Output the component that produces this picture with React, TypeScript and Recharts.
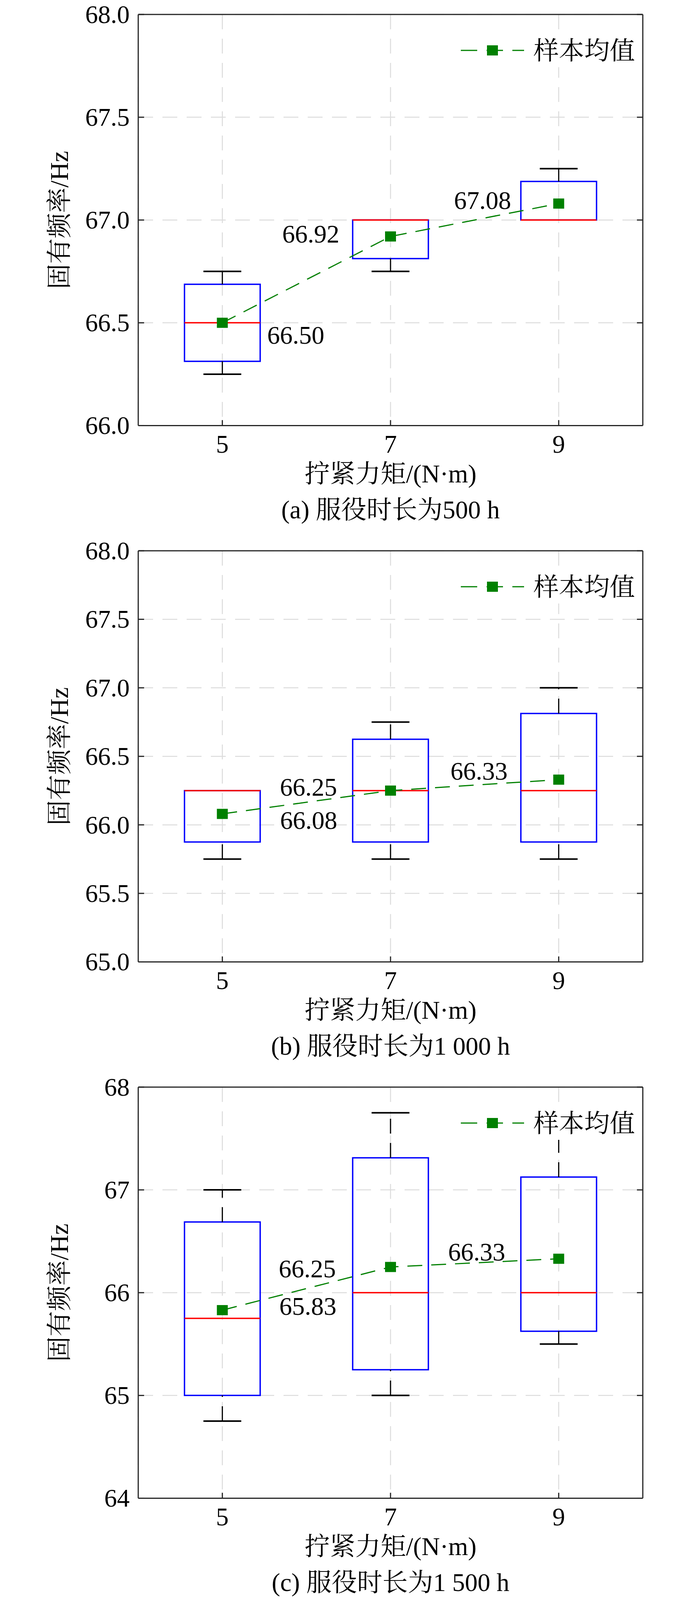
import React from 'react';
import { ComposedChart, Line, XAxis, YAxis, CartesianGrid, ReferenceArea, ReferenceLine, LabelList } from 'recharts';

// tightening torque, N·m
const torques = [5, 7, 9];

// (a) 500 h
const lowA = [66.25, 66.75, 67.0];
const q1A = [66.3125, 66.8125, 67.0];
const medA = [66.5, 67.0, 67.0];
const q3A = [66.6875, 67.0, 67.1875];
const highA = [66.75, 67.0, 67.25];
const meanA = [66.5, 66.92, 67.08];
const yTicksA = [66.0, 66.5, 67.0, 67.5, 68.0];

// (b) 1 000 h
const lowB = [65.75, 65.75, 65.75];
const q1B = [65.875, 65.875, 65.875];
const medB = [66.25, 66.25, 66.25];
const q3B = [66.25, 66.625, 66.8125];
const highB = [66.25, 66.75, 67.0];
const meanB = [66.08, 66.25, 66.33];
const yTicksB = [65.0, 65.5, 66.0, 66.5, 67.0, 67.5, 68.0];

// (c) 1 500 h
const lowC = [64.75, 65.0, 65.5];
const q1C = [65.0, 65.25, 65.625];
const medC = [65.75, 66.0, 66.0];
const q3C = [66.6875, 67.3125, 67.125];
const highC = [67.0, 67.75, 67.75];
const meanC = [65.83, 66.25, 66.33];
const yTicksC = [64, 65, 66, 67, 68];

// the viewport is only 4096px tall, so vertical distances are squeezed to fit
const SY = 4096 / 4390;

const W = 1772;
const PLOT_H = 1128 * SY;
const PLOT_LEFT = 354;
const PLOT_RIGHT = 126;
const FS = 65;
const AXIS = '#262626';
const SERIF = '"Times New Roman", "Liberation Serif", "Noto Serif CJK SC", "Noto Sans CJK SC", serif';
const BOX_HALF = 0.45;
const CAP_HALF = 0.225;

const BottomTick = (p: any) => (
  <g>
    <line x1={p.x} y1={p.y} x2={p.x} y2={p.y - 14} stroke={AXIS} strokeWidth={3} />
    <text x={p.x} y={p.y + 70} textAnchor="middle" fontSize={FS} fontFamily={SERIF} fill="#000">
      {p.payload.value}
    </text>
  </g>
);

const TopTick = (p: any) => (
  <line x1={p.x} y1={p.y} x2={p.x} y2={p.y + 14} stroke={AXIS} strokeWidth={3} />
);

const LeftTick = (p: any) => (
  <g>
    <line x1={p.x} y1={p.y} x2={p.x + 15} y2={p.y} stroke={AXIS} strokeWidth={3} />
    <text x={p.x - 22} y={p.y + 22} textAnchor="end" fontSize={FS} fontFamily={SERIF} fill="#000">
      {Number(p.payload.value).toFixed(p.digits)}
    </text>
  </g>
);

const RightTick = (p: any) => (
  <line x1={p.x} y1={p.y} x2={p.x - 15} y2={p.y} stroke={AXIS} strokeWidth={3} />
);

const SquareDot = (p: any) => {
  if (p.cx == null || p.cy == null) return null;
  return <rect key={`dot-${p.index}`} x={p.cx - 14} y={p.cy - 13} width={28} height={26} fill="#008000" />;
};

interface PanelProps {
  top: number;
  plotTop: number;
  low: number[];
  q1: number[];
  med: number[];
  q3: number[];
  high: number[];
  mean: number[];
  yTicks: number[];
  digits: number;
  caption: string;
  labelDx: number[];
  labelDy: number[];
}

const Panel: React.FC<PanelProps> = ({ top, plotTop, low, q1, med, q3, high, mean, yTicks, digits, caption, labelDx, labelDy }) => {
  const data = torques.map((t, i) => ({ torque: t, mean: mean[i] }));
  const yDomain = [yTicks[0], yTicks[yTicks.length - 1]];
  const plotBottom = plotTop + PLOT_H;
  const plotCx = PLOT_LEFT + (W - PLOT_LEFT - PLOT_RIGHT) / 2;
  const h = Math.round(plotBottom + 262);

  const renderLabel = (props: any) => {
    const vb = props.viewBox || {};
    const x = props.x ?? vb.x;
    const y = props.y ?? vb.y;
    const i = props.index;
    if (x == null || y == null) return null;
    const dx = labelDx[i];
    return (
      <text
        key={`lbl-${i}`}
        x={x + dx}
        y={y + labelDy[i] * SY + 1}
        textAnchor={dx > 0 ? 'start' : 'end'}
        fontSize={FS}
        fontFamily={SERIF}
        fill="#000"
      >
        {Number(props.value).toFixed(2)}
      </text>
    );
  };

  // axes are 1px thick so they render; margins shrink by that pixel
  return (
    <div style={{ position: 'absolute', left: 0, top, width: W, height: h }}>
      <ComposedChart
        width={W}
        height={h}
        data={data}
        margin={{ top: plotTop - 1, right: PLOT_RIGHT - 1, bottom: h - plotBottom - 1, left: PLOT_LEFT - 1 }}
      >
        <CartesianGrid stroke="#dcdcdc" strokeWidth={2.5} strokeDasharray="38 24" />
        <XAxis
          dataKey="torque"
          type="number"
          domain={[4, 10]}
          ticks={torques}
          interval={0}
          height={1}
          tickSize={0}
          tickMargin={0}
          tickLine={false}
          allowDataOverflow
          axisLine={{ stroke: AXIS, strokeWidth: 3 }}
          tick={(p: any) => <BottomTick {...p} />}
        />
        <XAxis
          xAxisId="top"
          orientation="top"
          type="number"
          domain={[4, 10]}
          ticks={torques}
          interval={0}
          height={1}
          tickSize={0}
          tickMargin={0}
          tickLine={false}
          allowDataOverflow
          axisLine={{ stroke: AXIS, strokeWidth: 3 }}
          tick={(p: any) => <TopTick {...p} />}
        />
        <YAxis
          type="number"
          domain={yDomain}
          ticks={yTicks}
          interval={0}
          width={1}
          tickSize={0}
          tickMargin={0}
          tickLine={false}
          allowDataOverflow
          axisLine={{ stroke: AXIS, strokeWidth: 3 }}
          tick={(p: any) => <LeftTick {...p} digits={digits} />}
        />
        <YAxis
          yAxisId="right"
          orientation="right"
          type="number"
          domain={yDomain}
          ticks={yTicks}
          interval={0}
          width={1}
          tickSize={0}
          tickMargin={0}
          tickLine={false}
          allowDataOverflow
          axisLine={{ stroke: AXIS, strokeWidth: 3 }}
          tick={(p: any) => <RightTick {...p} />}
        />

        {torques.map((t, i) =>
          q3[i] < high[i] ? (
            <ReferenceLine
              key={`uw-${i}`}
              segment={[{ x: t, y: q3[i] }, { x: t, y: high[i] }]}
              stroke="#000"
              strokeWidth={3}
              strokeDasharray="38 24"
            />
          ) : null
        )}
        {torques.map((t, i) =>
          low[i] < q1[i] ? (
            <ReferenceLine
              key={`lw-${i}`}
              segment={[{ x: t, y: low[i] }, { x: t, y: q1[i] }]}
              stroke="#000"
              strokeWidth={3}
              strokeDasharray="38 24"
            />
          ) : null
        )}
        {torques.map((t, i) =>
          q3[i] < high[i] ? (
            <ReferenceLine
              key={`uc-${i}`}
              segment={[{ x: t - CAP_HALF, y: high[i] }, { x: t + CAP_HALF, y: high[i] }]}
              stroke="#000"
              strokeWidth={4}
            />
          ) : null
        )}
        {torques.map((t, i) =>
          low[i] < q1[i] ? (
            <ReferenceLine
              key={`lc-${i}`}
              segment={[{ x: t - CAP_HALF, y: low[i] }, { x: t + CAP_HALF, y: low[i] }]}
              stroke="#000"
              strokeWidth={4}
            />
          ) : null
        )}
        {torques.map((t, i) => (
          <ReferenceArea
            key={`box-${i}`}
            x1={t - BOX_HALF}
            x2={t + BOX_HALF}
            y1={q1[i]}
            y2={q3[i]}
            fill="none"
            fillOpacity={0}
            stroke="#0000ff"
            strokeWidth={3.5}
          />
        ))}
        {torques.map((t, i) => (
          <ReferenceLine
            key={`med-${i}`}
            segment={[{ x: t - BOX_HALF, y: med[i] }, { x: t + BOX_HALF, y: med[i] }]}
            stroke="#ff0000"
            strokeWidth={3.5}
          />
        ))}

        <Line
          dataKey="mean"
          type="linear"
          stroke="#008000"
          strokeWidth={3}
          strokeDasharray="38 23"
          dot={SquareDot}
          activeDot={false}
          isAnimationActive={false}
        >
          <LabelList dataKey="mean" content={renderLabel} />
        </Line>
      </ComposedChart>

      {/* axis titles and caption */}
      <svg width={W} height={h} style={{ position: 'absolute', left: 0, top: 0, pointerEvents: 'none' }}>
        <text
          transform={`translate(174, ${plotTop + PLOT_H / 2}) rotate(-90)`}
          textAnchor="middle"
          fontSize={FS}
          fontFamily={SERIF}
          fill="#000"
        >
          固有频率/Hz
        </text>
        <text x={plotCx} y={plotBottom + 146} textAnchor="middle" fontSize={FS} fontFamily={SERIF} fill="#000">
          拧紧力矩/(N·m)
        </text>
        <text x={plotCx} y={plotBottom + 238} textAnchor="middle" fontSize={FS} fontFamily={SERIF} fill="#000">
          {caption}
        </text>
      </svg>

      {/* legend */}
      <svg width={490} height={86} style={{ position: 'absolute', left: 1150, top: plotTop + 49 }}>
        <rect x={0} y={0} width={490} height={86} fill="#fff" />
        <line x1={30} y1={43} x2={192} y2={43} stroke="#008000" strokeWidth={3} strokeDasharray="42 24" />
        <rect x={97} y={30} width={28} height={26} fill="#008000" />
        <text x={216} y={66} fontSize={FS} fontFamily={SERIF} fill="#000">
          样本均值
        </text>
      </svg>
    </div>
  );
};

export default function App() {
  // first plot sits a few px lower so its top tick label stays inside the page
  const plotTops = [37, 1511 * SY, 2983 * SY];
  return (
    <div style={{ position: 'absolute', left: 0, top: 0, width: W, height: 4096, background: '#fff', overflow: 'hidden' }}>
      <Panel
        top={0}
        plotTop={plotTops[0]}
        low={lowA}
        q1={q1A}
        med={medA}
        q3={q3A}
        high={highA}
        mean={meanA}
        yTicks={yTicksA}
        digits={1}
        caption="(a) 服役时长为500 h"
        labelDx={[115, -131, -122]}
        labelDy={[56, 16, 14]}
      />
      <Panel
        top={plotTops[1] - 60}
        plotTop={60}
        low={lowB}
        q1={q1B}
        med={medB}
        q3={q3B}
        high={highB}
        mean={meanB}
        yTicks={yTicksB}
        digits={1}
        caption="(b) 服役时长为1 000 h"
        labelDx={[148, -137, -131]}
        labelDy={[40, 13, -1]}
      />
      <Panel
        top={plotTops[2] - 60}
        plotTop={60}
        low={lowC}
        q1={q1C}
        med={medC}
        q3={q3C}
        high={highC}
        mean={meanC}
        yTicks={yTicksC}
        digits={0}
        caption="(c) 服役时长为1 500 h"
        labelDx={[146, -140, -137]}
        labelDy={[12, 27, 4]}
      />
    </div>
  );
}
